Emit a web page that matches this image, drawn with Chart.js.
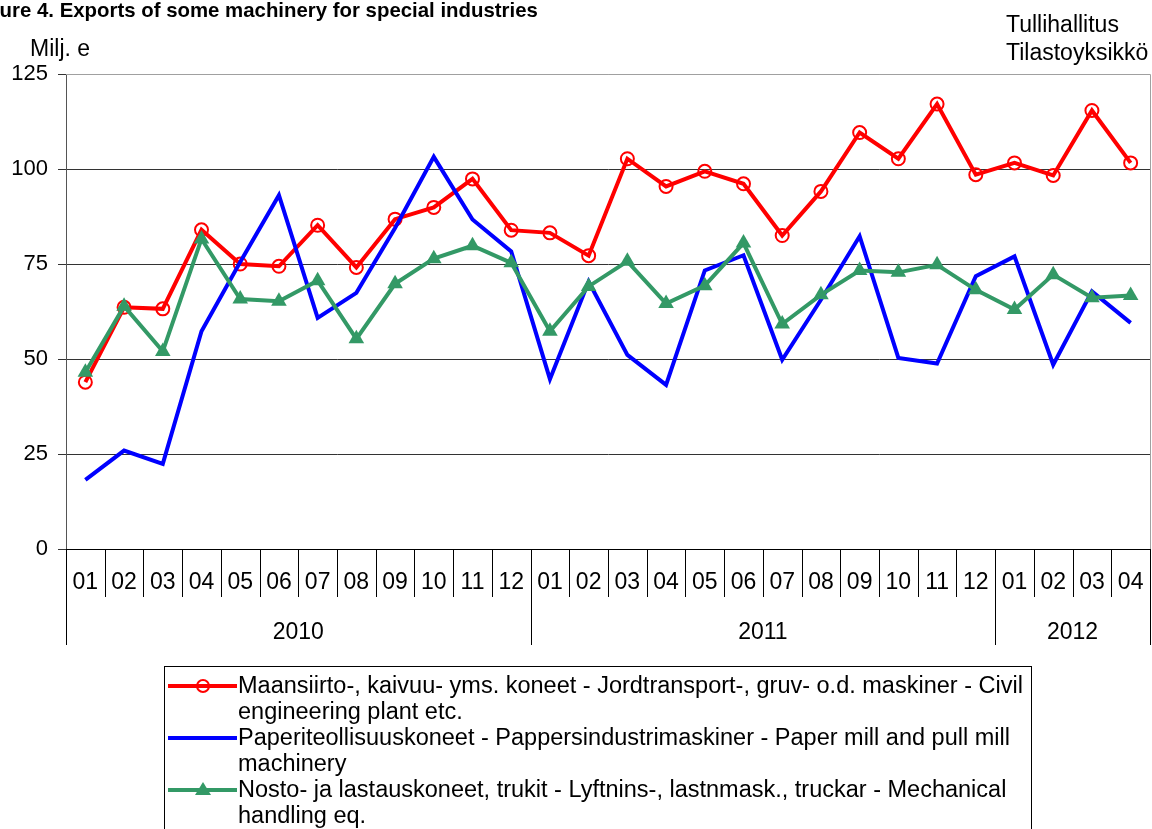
<!DOCTYPE html>
<html>
<head>
<meta charset="utf-8">
<script src="https://cdn.jsdelivr.net/npm/chart.js@4.4.1/dist/chart.umd.min.js"></script>
<style>
  body { margin: 0; width: 1152px; height: 829px; overflow: hidden; position: relative; background: #fff;
         font-family: "Liberation Sans", Arial, sans-serif; color: #000; }
  #wrap { position: absolute; left: 0; top: 0; width: 1152px; height: 829px; }
  .txt { position: absolute; white-space: nowrap; line-height: 1; }
  #title { left: -31px; top: 0px; font-size: 20.4px; font-weight: bold; }
  #unit { left: 30px; top: 37px; font-size: 23px; }
  #src { left: 1006px; top: 10px; font-size: 23px; line-height: 28px; }
  #legend { position: absolute; left: 164px; top: 666px; width: 868px; height: 200px;
            border: 1px solid #000; padding-top: 5px; box-sizing: border-box; font-size: 23.5px; }
  .item { display: flex; line-height: 26px; }
  .item svg { flex: none; width: 73px; height: 26px; }
  .item span { white-space: nowrap; }
</style>
</head>
<body>
<div id="wrap"><canvas id="chart"></canvas></div>
<div class="txt" id="title">Figure 4. Exports of some machinery for special industries</div>
<div class="txt" id="unit">Milj. e</div>
<div class="txt" id="src">Tullihallitus<br>Tilastoyksikkö</div>
<div id="legend">
  <div class="item">
    <svg><line x1="3" y1="14" x2="72" y2="14" stroke="#ff0000" stroke-width="4"/><circle cx="38" cy="14" r="6" fill="none" stroke="#ff0000" stroke-width="2"/></svg>
    <span>Maansiirto-, kaivuu- yms. koneet - Jordtransport-, gruv- o.d. maskiner - Civil<br>engineering plant etc.</span>
  </div>
  <div class="item">
    <svg><line x1="3" y1="14" x2="72" y2="14" stroke="#0000ff" stroke-width="4"/></svg>
    <span>Paperiteollisuuskoneet - Pappersindustrimaskiner - Paper mill and pull mill<br>machinery</span>
  </div>
  <div class="item">
    <svg><line x1="3" y1="14" x2="72" y2="14" stroke="#339966" stroke-width="4"/><polygon points="38,6 46,19 30,19" fill="#339966"/></svg>
    <span>Nosto- ja lastauskoneet, trukit - Lyftnins-, lastnmask., truckar - Mechanical<br>handling eq.</span>
  </div>
</div>
<script>
const months = ['01','02','03','04','05','06','07','08','09','10','11','12',
                '01','02','03','04','05','06','07','08','09','10','11','12',
                '01','02','03','04'];
const years = ['2010', '2011', '2012'];
const yearLengths = [12, 12, 4];

const civil = [43.9, 63.6, 63.2, 84.0, 75.0, 74.4, 85.2, 74.1, 86.8, 89.9, 97.4, 83.9,
               83.2, 77.2, 102.7, 95.4, 99.4, 96.1, 82.5, 94.1, 109.6, 102.7, 117.1, 98.5,
               101.6, 98.3, 115.4, 101.6];
const paper = [18.2, 25.9, 22.4, 57.3, 75.5, 93.1, 60.8, 67.4, 84.5, 103.2, 86.7, 78.3,
               44.7, 70.4, 51.1, 43.2, 73.3, 77.3, 49.8, 65.6, 82.3, 50.3, 48.8, 71.8,
               77.0, 48.5, 67.8, 59.5];
const handling = [46.5, 63.9, 52.0, 81.6, 65.8, 65.2, 70.6, 55.3, 69.8, 76.4, 79.8, 75.3,
                  57.3, 69.1, 75.7, 64.6, 69.3, 80.5, 59.2, 66.9, 73.3, 72.8, 74.8, 68.2,
                  63.0, 72.2, 66.1, 66.7];

Chart.defaults.font.family = '"Liberation Sans", Arial, sans-serif';
Chart.defaults.color = '#000';

// month row, year row and the separators under the x axis
const xAxisPlugin = {
    id: 'xAxisPlugin',
    afterDraw(chart) {
        const ctx = chart.ctx;
        const area = chart.chartArea;
        const x = chart.scales.x;
        const n = months.length;
        ctx.save();

        // plot frame top/right
        ctx.strokeStyle = '#a0a0a0';
        ctx.lineWidth = 1;
        ctx.beginPath();
        ctx.moveTo(area.left, area.top + 0.5);
        ctx.lineTo(area.right + 0.5, area.top + 0.5);
        ctx.lineTo(area.right + 0.5, area.bottom);
        ctx.stroke();

        const bound = i => {
            if (i === 0) return area.left;
            if (i === n) return area.right;
            return (x.getPixelForValue(i - 1) + x.getPixelForValue(i)) / 2;
        };
        const yearStarts = [0];
        yearLengths.forEach((len, k) => yearStarts.push(yearStarts[k] + len));

        ctx.strokeStyle = '#000';
        ctx.beginPath();
        ctx.moveTo(area.left, area.bottom + 0.5);
        ctx.lineTo(area.right + 0.5, area.bottom + 0.5);
        for (let i = 0; i <= n; i++) {
            const bx = Math.round(bound(i)) + 0.5;
            const isYear = yearStarts.includes(i);
            ctx.moveTo(bx, area.bottom);
            ctx.lineTo(bx, isYear ? area.bottom + 96 : area.bottom + 48);
        }
        ctx.stroke();

        ctx.fillStyle = '#000';
        ctx.font = '23px "Liberation Sans", Arial, sans-serif';
        ctx.textAlign = 'center';
        ctx.textBaseline = 'middle';
        for (let i = 0; i < n; i++) {
            ctx.fillText(months[i], x.getPixelForValue(i), area.bottom + 34);
        }
        years.forEach((yr, k) => {
            const cx = (bound(yearStarts[k]) + bound(yearStarts[k + 1])) / 2;
            ctx.fillText(yr, cx, area.bottom + 84);
        });
        ctx.restore();
    }
};

new Chart(document.getElementById('chart'), {
    type: 'line',
    data: {
        labels: months,
        datasets: [
            {
                label: 'Maansiirto-, kaivuu- yms. koneet - Jordtransport-, gruv- o.d. maskiner - Civil engineering plant etc.',
                data: civil,
                borderColor: '#ff0000',
                borderWidth: 4,
                pointStyle: 'circle',
                pointRadius: 6.5,
                pointBorderWidth: 2,
                pointBorderColor: '#ff0000',
                pointBackgroundColor: 'rgba(0,0,0,0)',
                tension: 0,
                order: 3
            },
            {
                label: 'Paperiteollisuuskoneet - Pappersindustrimaskiner - Paper mill and pull mill machinery',
                data: paper,
                borderColor: '#0000ff',
                borderWidth: 4,
                pointRadius: 0,
                tension: 0,
                order: 2
            },
            {
                label: 'Nosto- ja lastauskoneet, trukit - Lyftnins-, lastnmask., truckar - Mechanical handling eq.',
                data: handling,
                borderColor: '#339966',
                borderWidth: 4,
                pointStyle: 'triangle',
                pointRadius: 9,
                pointBorderWidth: 0,
                pointBackgroundColor: '#339966',
                tension: 0,
                order: 1
            }
        ]
    },
    options: {
        responsive: true,
        maintainAspectRatio: false,
        animation: false,
        layout: { autoPadding: false, padding: { left: 0, top: 74, right: 2, bottom: 280 } },
        plugins: {
            legend: { display: false },
            tooltip: { enabled: false }
        },
        scales: {
            x: {
                display: false,
                offset: true
            },
            y: {
                min: 0,
                max: 125,
                afterFit(scale) { scale.width = 66; },
                ticks: {
                    stepSize: 25,
                    padding: 10,
                    font: { size: 22 },
                    color: '#000'
                },
                grid: {
                    color: ctx => (ctx.tick && ctx.tick.value === 125) ? '#a0a0a0' : '#333',
                    tickColor: '#333',
                    tickLength: 8,
                    lineWidth: 1
                },
                border: { color: '#555', width: 1 }
            }
        }
    },
    plugins: [xAxisPlugin]
});
</script>
</body>
</html>
